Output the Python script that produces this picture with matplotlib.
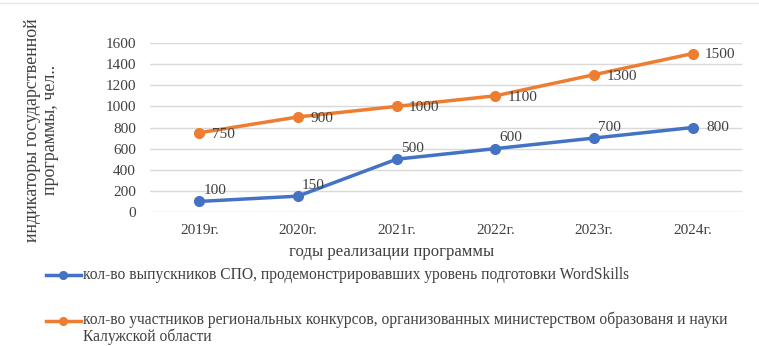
import matplotlib.pyplot as plt
from matplotlib.lines import Line2D

plt.rcParams['font.family'] = ['Liberation Serif', 'DejaVu Serif']

years = ['2019г.', '2020г.', '2021г.', '2022г.', '2023г.', '2024г.']
graduates = [100, 150, 500, 600, 700, 800]
participants = [750, 900, 1000, 1100, 1300, 1500]
yticks = [0, 200, 400, 600, 800, 1000, 1200, 1400, 1600]

lbl_blue = 'кол-во выпускников СПО, продемонстрировавших уровень подготовки WordSkills'
lbl_orange = ('кол-во участников региональных конкурсов, организованных министерством образованя и науки\n'
              'Калужской области')

blue = '#4472C4'
orange = '#ED7D31'
txt = '#404040'

fig = plt.figure(figsize=(7.59, 3.46), dpi=100)
ax = fig.add_axes([0.1976, 0.3873, 0.78, 0.4884])

x = list(range(len(years)))
ax.plot(x, graduates, color=blue, lw=2.5, marker='o', ms=7, zorder=3)
ax.plot(x, participants, color=orange, lw=2.5, marker='o', ms=7, zorder=3)

# data labels
for i, v in enumerate(graduates):
    if i == len(graduates) - 1:
        ax.annotate(str(v), (i, v), xytext=(10, 0), textcoords='offset points',
                    ha='left', va='center', fontsize=11, color=txt)
    else:
        ax.annotate(str(v), (i, v), xytext=(3, 3), textcoords='offset points',
                    ha='left', va='bottom', fontsize=11, color=txt)
for i, v in enumerate(participants):
    ax.annotate(str(v), (i, v), xytext=(9, -1), textcoords='offset points',
                ha='left', va='center', fontsize=11, color=txt)

ax.set_xlim(-0.5, len(years) - 0.5)
ax.set_ylim(0, 1600)
ax.set_yticks(yticks)
ax.set_xticks(x)
ax.set_xticklabels(years)
ax.tick_params(axis='both', length=0, labelsize=11, colors=txt)
ax.tick_params(axis='y', pad=10)
ax.tick_params(axis='x', pad=9)
ax.grid(axis='y', color='#d9d9d9', lw=1)
ax.set_axisbelow(True)
for s in ax.spines.values():
    s.set_visible(False)

fig.text(392 / 759, 1 - 252 / 346, 'годы реализации программы', ha='center', va='center',
         fontsize=12, color=txt)
fig.text(0.055, 1 - 130 / 346, 'индикаторы государственной\nпрограммы, чел..', rotation=90,
         ha='center', va='center', fontsize=13, color=txt, linespacing=1.05)

# legend drawn below the chart
def handle(y, col):
    fig.add_artist(Line2D([46 / 759, 81 / 759], [y, y], transform=fig.transFigure,
                          color=col, lw=2.5))
    fig.add_artist(Line2D([63 / 759], [y], transform=fig.transFigure, color=col,
                          marker='o', ms=5.5))

handle(1 - 275 / 346, blue)
fig.text(83 / 759, 1 - 275 / 346, lbl_blue, ha='left', va='center', fontsize=11.2, color=txt)
handle(1 - 321 / 346, orange)
fig.text(83 / 759, 1 - 312 / 346, lbl_orange, ha='left', va='top', fontsize=11.2, color=txt,
         linespacing=1.0)

# thin frame line at top
fig.add_artist(Line2D([0, 1], [0.991, 0.991], transform=fig.transFigure, color='#e6e6e6', lw=1))

fig.savefig('out.png', dpi=100)
